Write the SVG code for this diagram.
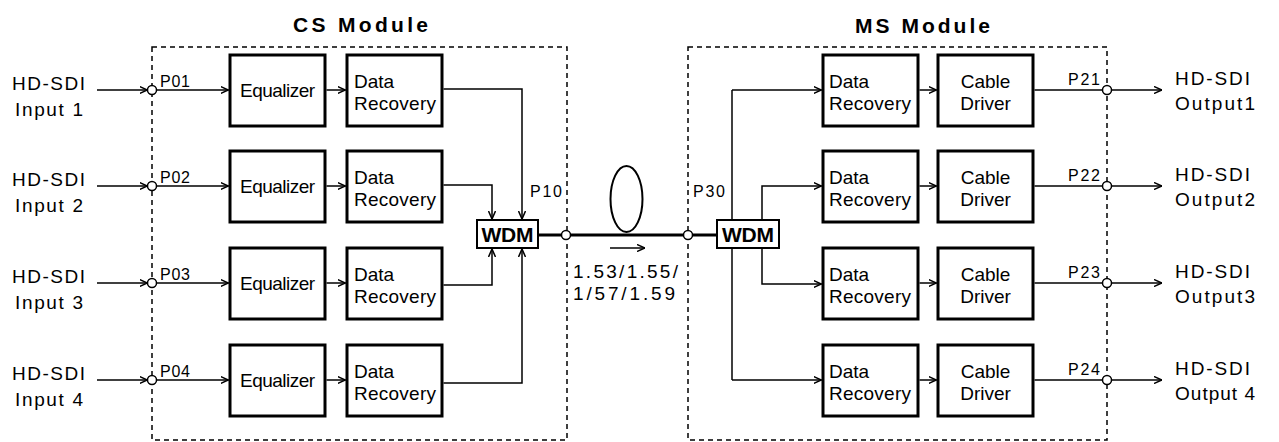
<svg xmlns="http://www.w3.org/2000/svg" width="1279" height="442" viewBox="0 0 1279 442">
<style>
text{font-family:"Liberation Sans",Arial,sans-serif;font-size:19px;fill:#000}
.t{font-size:21px;font-weight:bold}
.p{font-size:16px}
.w{font-size:21px;font-weight:bold}
.box{fill:#fff;stroke:#000;stroke-width:3}
.wdm{fill:#fff;stroke:#000;stroke-width:2}
.mod{fill:none;stroke:#000;stroke-width:1.5;stroke-dasharray:5 4}
.ln{fill:none;stroke:#000;stroke-width:1.5}
.ar{fill:none;stroke:#000;stroke-width:1.5;marker-end:url(#ah)}
.fb{fill:none;stroke:#000;stroke-width:3}
.pt{fill:#fff;stroke:#000;stroke-width:1.5}
.m{text-anchor:middle}
</style>
<defs>
<marker id="ah" markerUnits="userSpaceOnUse" viewBox="0 0 8 8" refX="8" refY="4" markerWidth="8" markerHeight="8" orient="auto">
<path d="M0,0.5 L8,4 L0,7.5" fill="none" stroke="#000" stroke-width="1.5"/>
</marker>
</defs>
<rect width="1279" height="442" fill="#fff"/>

<g id="cs-module">
<rect class="mod" x="152" y="47" width="415" height="393"/>
<text class="t" x="293" y="32" textLength="135" lengthAdjust="spacing">CS Module</text>
</g>
<g id="ms-module">
<rect class="mod" x="688" y="47" width="419" height="393"/>
<text class="t" x="855" y="33" textLength="135" lengthAdjust="spacing">MS Module</text>
</g>

<g id="connectors">
<line class="ar" x1="97" y1="90" x2="147.5" y2="90"/>
<line class="ar" x1="97" y1="186" x2="147.5" y2="186"/>
<line class="ar" x1="97" y1="283" x2="147.5" y2="283"/>
<line class="ar" x1="97" y1="380" x2="147.5" y2="380"/>
<line class="ar" x1="156.5" y1="90" x2="228.5" y2="90"/>
<line class="ar" x1="156.5" y1="186" x2="228.5" y2="186"/>
<line class="ar" x1="156.5" y1="283" x2="228.5" y2="283"/>
<line class="ar" x1="156.5" y1="380" x2="228.5" y2="380"/>
<line class="ar" x1="326.5" y1="90" x2="345.5" y2="90"/>
<line class="ar" x1="326.5" y1="186" x2="345.5" y2="186"/>
<line class="ar" x1="326.5" y1="283" x2="345.5" y2="283"/>
<line class="ar" x1="326.5" y1="380" x2="345.5" y2="380"/>
<polyline class="ar" points="443.5,89 522,89 522,219"/>
<polyline class="ar" points="443.5,185 492,185 492,219"/>
<polyline class="ar" points="443.5,285 492,285 492,249"/>
<polyline class="ar" points="443.5,383 522,383 522,249"/>
<line class="fb" x1="538" y1="235" x2="717" y2="235"/>
<ellipse cx="626.5" cy="199" rx="16" ry="33" fill="none" stroke="#000" stroke-width="2"/>
<line class="ar" x1="610" y1="248" x2="645" y2="248"/>
<line class="ln" x1="732" y1="90" x2="732" y2="380"/>
<line class="ar" x1="732" y1="90" x2="821.5" y2="90"/>
<line class="ar" x1="732" y1="380" x2="821.5" y2="380"/>
<polyline class="ar" points="762,220 762,186 821.5,186"/>
<polyline class="ar" points="762,248 762,284 821.5,284"/>
<line class="ar" x1="919.5" y1="90" x2="936.5" y2="90"/>
<line class="ar" x1="919.5" y1="186" x2="936.5" y2="186"/>
<line class="ar" x1="919.5" y1="283" x2="936.5" y2="283"/>
<line class="ar" x1="919.5" y1="380" x2="936.5" y2="380"/>
<line class="ln" x1="1034.5" y1="90" x2="1102.5" y2="90"/>
<line class="ln" x1="1034.5" y1="186" x2="1102.5" y2="186"/>
<line class="ln" x1="1034.5" y1="283" x2="1102.5" y2="283"/>
<line class="ln" x1="1034.5" y1="380" x2="1102.5" y2="380"/>
<line class="ar" x1="1111.5" y1="90" x2="1162" y2="90"/>
<line class="ar" x1="1111.5" y1="186" x2="1162" y2="186"/>
<line class="ar" x1="1111.5" y1="283" x2="1162" y2="283"/>
<line class="ar" x1="1111.5" y1="380" x2="1162" y2="380"/>
</g>

<g id="input1"><text x="12" y="90" textLength="73">HD-SDI</text><text x="15" y="116" textLength="68">Input 1</text></g>
<g id="input2"><text x="12" y="186" textLength="73">HD-SDI</text><text x="15" y="212" textLength="68">Input 2</text></g>
<g id="input3"><text x="12" y="283" textLength="73">HD-SDI</text><text x="15" y="309" textLength="68">Input 3</text></g>
<g id="input4"><text x="12" y="380" textLength="73">HD-SDI</text><text x="15" y="406" textLength="68">Input 4</text></g>

<g id="p01"><circle class="pt" cx="152" cy="90" r="4.5"/><text class="p" x="160" y="87" textLength="30">P01</text></g>
<g id="p02"><circle class="pt" cx="152" cy="186" r="4.5"/><text class="p" x="160" y="183" textLength="30">P02</text></g>
<g id="p03"><circle class="pt" cx="152" cy="283" r="4.5"/><text class="p" x="160" y="280" textLength="30">P03</text></g>
<g id="p04"><circle class="pt" cx="152" cy="380" r="4.5"/><text class="p" x="160" y="377" textLength="30">P04</text></g>

<g id="eq1"><rect class="box" x="230" y="55" width="95" height="71"/><text x="240" y="97" textLength="75">Equalizer</text></g>
<g id="eq2"><rect class="box" x="230" y="151" width="95" height="71"/><text x="240" y="193" textLength="75">Equalizer</text></g>
<g id="eq3"><rect class="box" x="230" y="248" width="95" height="71"/><text x="240" y="290" textLength="75">Equalizer</text></g>
<g id="eq4"><rect class="box" x="230" y="345" width="95" height="71"/><text x="240" y="387" textLength="75">Equalizer</text></g>

<g id="cs-dr1"><rect class="box" x="347" y="55" width="95" height="71"/><text x="354" y="88">Data</text><text x="354" y="110" textLength="82">Recovery</text></g>
<g id="cs-dr2"><rect class="box" x="347" y="151" width="95" height="71"/><text x="354" y="184">Data</text><text x="354" y="206" textLength="82">Recovery</text></g>
<g id="cs-dr3"><rect class="box" x="347" y="248" width="95" height="71"/><text x="354" y="281">Data</text><text x="354" y="303" textLength="82">Recovery</text></g>
<g id="cs-dr4"><rect class="box" x="347" y="345" width="95" height="71"/><text x="354" y="378">Data</text><text x="354" y="400" textLength="82">Recovery</text></g>

<g id="cs-wdm"><rect class="wdm" x="477" y="220" width="61" height="28"/><text class="w m" x="507.5" y="242" textLength="52" lengthAdjust="spacing">WDM</text></g>

<g id="p10"><circle class="pt" cx="566" cy="235" r="4.5"/><text class="p" x="530" y="197" textLength="32">P10</text></g>
<g id="p30"><circle class="pt" cx="688" cy="235" r="4.5"/><text class="p" x="693" y="197" textLength="32">P30</text></g>

<g id="wavelengths"><text x="573" y="278" textLength="105">1.53/1.55/</text><text x="573" y="300" textLength="102">1/57/1.59</text></g>

<g id="ms-wdm"><rect class="wdm" x="717" y="220" width="62" height="28"/><text class="w m" x="748" y="242" textLength="52" lengthAdjust="spacing">WDM</text></g>

<g id="ms-dr1"><rect class="box" x="823" y="55" width="95" height="71"/><text x="829" y="88">Data</text><text x="829" y="110" textLength="82">Recovery</text></g>
<g id="ms-dr2"><rect class="box" x="823" y="151" width="95" height="71"/><text x="829" y="184">Data</text><text x="829" y="206" textLength="82">Recovery</text></g>
<g id="ms-dr3"><rect class="box" x="823" y="248" width="95" height="71"/><text x="829" y="281">Data</text><text x="829" y="303" textLength="82">Recovery</text></g>
<g id="ms-dr4"><rect class="box" x="823" y="345" width="95" height="71"/><text x="829" y="378">Data</text><text x="829" y="400" textLength="82">Recovery</text></g>

<g id="cd1"><rect class="box" x="938" y="55" width="95" height="71"/><text class="m" x="985.5" y="88">Cable</text><text class="m" x="985.5" y="110">Driver</text></g>
<g id="cd2"><rect class="box" x="938" y="151" width="95" height="71"/><text class="m" x="985.5" y="184">Cable</text><text class="m" x="985.5" y="206">Driver</text></g>
<g id="cd3"><rect class="box" x="938" y="248" width="95" height="71"/><text class="m" x="985.5" y="281">Cable</text><text class="m" x="985.5" y="303">Driver</text></g>
<g id="cd4"><rect class="box" x="938" y="345" width="95" height="71"/><text class="m" x="985.5" y="378">Cable</text><text class="m" x="985.5" y="400">Driver</text></g>

<g id="p21"><circle class="pt" cx="1107" cy="90" r="4.5"/><text class="p" x="1068" y="85" textLength="32">P21</text></g>
<g id="p22"><circle class="pt" cx="1107" cy="186" r="4.5"/><text class="p" x="1068" y="181" textLength="32">P22</text></g>
<g id="p23"><circle class="pt" cx="1107" cy="283" r="4.5"/><text class="p" x="1068" y="278" textLength="32">P23</text></g>
<g id="p24"><circle class="pt" cx="1107" cy="380" r="4.5"/><text class="p" x="1068" y="375" textLength="32">P24</text></g>

<g id="output1"><text x="1175" y="85" textLength="75">HD-SDI</text><text x="1175" y="110" textLength="80">Output1</text></g>
<g id="output2"><text x="1175" y="181" textLength="75">HD-SDI</text><text x="1175" y="206" textLength="80">Output2</text></g>
<g id="output3"><text x="1175" y="278" textLength="75">HD-SDI</text><text x="1175" y="303" textLength="80">Output3</text></g>
<g id="output4"><text x="1175" y="375" textLength="75">HD-SDI</text><text x="1175" y="400" textLength="80">Output 4</text></g>
</svg>
